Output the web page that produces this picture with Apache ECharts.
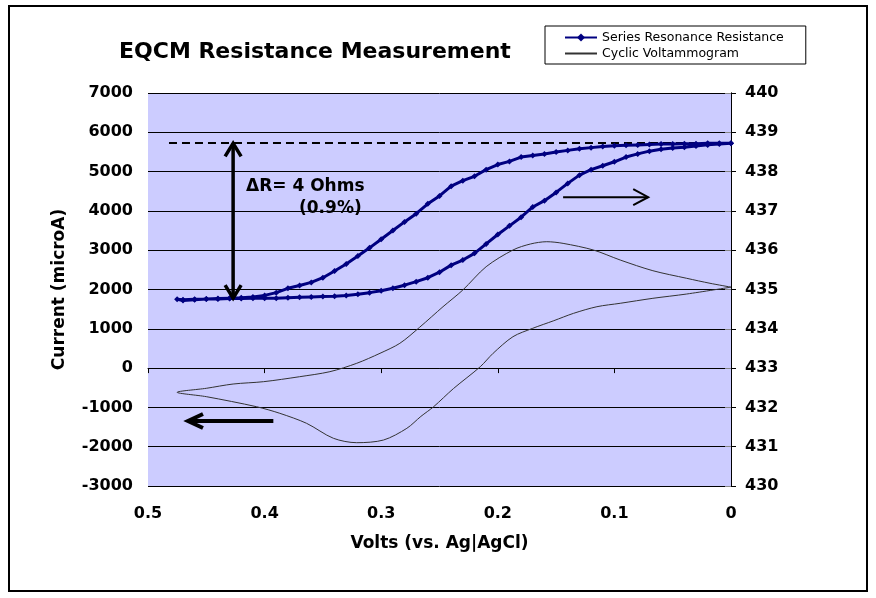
<!DOCTYPE html>
<html>
<head>
<meta charset="utf-8">
<script src="https://cdn.jsdelivr.net/npm/echarts@6/dist/echarts.min.js"></script>
<style>
html,body{margin:0;padding:0;background:#fff;}
#chart{width:876px;height:598px;}
</style>
</head>
<body>
<div id="chart"></div>
<script>
// ---------- data ----------
// Series Resonance Resistance (Ohms, right axis) vs Volts
const resUpperVolts = [0.00,0.01,0.02,0.03,0.04,0.05,0.06,0.07,0.08,0.09,
  0.10,0.11,0.12,0.13,0.14,0.15,0.16,0.17,0.18,0.19,
  0.20,0.21,0.22,0.23,0.24,0.25,0.26,0.27,0.28,0.29,
  0.30,0.31,0.32,0.33,0.34,0.35,0.36,0.37,0.38,0.39,
  0.40,0.41,0.42,0.43,0.44,0.45,0.46,0.47,0.475];
const resUpperOhms = [438.72,438.72,438.72,438.71,438.71,438.70,438.70,438.69,438.68,438.67,
  438.66,438.64,438.61,438.58,438.54,438.50,438.45,438.41,438.37,438.26,
  438.18,438.05,437.88,437.77,437.63,437.38,437.18,436.93,436.72,436.50,
  436.28,436.06,435.85,435.65,435.47,435.30,435.18,435.10,435.03,434.92,
  434.85,434.81,434.79,434.78,434.77,434.76,434.74,434.72,434.75];
const resLowerVolts = [0.47,0.46,0.45,0.44,0.43,0.42,0.41,0.40,0.39,0.38,
  0.37,0.36,0.35,0.34,0.33,0.32,0.31,0.30,0.29,0.28,
  0.27,0.26,0.25,0.24,0.23,0.22,0.21,0.20,0.19,0.18,
  0.17,0.16,0.15,0.14,0.13,0.12,0.11,0.10,0.09,0.08,
  0.07,0.06,0.05,0.04,0.03,0.02,0.01,0.00];
const resLowerOhms = [434.74,434.75,434.76,434.76,434.77,434.77,434.78,434.78,434.78,434.79,
  434.80,434.81,434.82,434.83,434.85,434.88,434.92,434.97,435.03,435.11,
  435.20,435.30,435.44,435.62,435.75,435.92,436.16,436.40,436.62,436.84,
  437.10,437.26,437.47,437.70,437.91,438.05,438.15,438.25,438.37,438.45,
  438.52,438.57,438.60,438.62,438.65,438.68,438.70,438.72];

// Cyclic Voltammogram (microA, left axis) vs Volts
const cvVolts = [0.000,0.018,0.038,0.067,0.095,0.118,0.144,0.158,0.172,0.187,0.210,0.230,0.247,0.267,0.284,0.301,0.321,0.344,0.370,0.401,0.427,0.450,0.475,
  0.450,0.407,0.387,0.364,0.341,0.321,0.298,0.278,0.266,0.255,0.238,0.215,0.204,0.187,0.170,0.152,0.135,0.115,0.095,0.067,0.038,0.000];
const cvCurrent = [2060,2158,2285,2478,2750,3005,3174,3216,3158,3005,2580,1987,1562,1040,631,377,122,-91,-219,-346,-405,-514,-616,
  -727,-982,-1150,-1405,-1786,-1898,-1830,-1532,-1230,-982,-520,36,377,799,1013,1206,1394,1562,1649,1776,1885,2060];

// axis ticks
const xTicks = [0.5,0.4,0.3,0.2,0.1,0];
const leftTicks = [-3000,-2000,-1000,0,1000,2000,3000,4000,5000,6000,7000];
const rightTicks = [430,431,432,433,434,435,436,437,438,439,440];

// annotations (data units): [x1, y1, x2, y2, bothHeads]
const dashedLevel = [[0.482, 438.73, 0.0, 438.73, 0]];
const deltaArrow = [[0.427, 438.72, 0.427, 434.78, 1]];      // right axis
const sweepArrowRight = [[0.144, 437.35, 0.071, 437.35, 0]]; // right axis
const sweepArrowLeft = [[0.3925, -1346, 0.4657, -1346, 0]];  // left axis

// ---------- chart ----------
const resData = resUpperVolts.map((v,i)=>[v,resUpperOhms[i]])
  .concat(resLowerVolts.map((v,i)=>[v,resLowerOhms[i]]));
const cvData = cvVolts.map((v,i)=>[v,cvCurrent[i]]);

const FONT = 'DejaVu Sans';

function arrowRenderer(lineW, headL, headW, dash){
  return function(params, api){
    const p1 = api.coord([api.value(0), api.value(1)]);
    const p2 = api.coord([api.value(2), api.value(3)]);
    const both = api.value(4);
    const dx = p2[0]-p1[0], dy = p2[1]-p1[1];
    const len = Math.sqrt(dx*dx+dy*dy) || 1;
    const ux = dx/len, uy = dy/len, nx = -uy, ny = ux;
    const children = [{
      type:'line',
      shape:{x1:p1[0],y1:p1[1],x2:p2[0],y2:p2[1]},
      style:{stroke:'#000',lineWidth:lineW,lineDash:dash||null}
    }];
    if (headL > 0) {
      children.push({type:'polyline',shape:{points:[
        [p2[0]-ux*headL+nx*headW, p2[1]-uy*headL+ny*headW], p2,
        [p2[0]-ux*headL-nx*headW, p2[1]-uy*headL-ny*headW]]},
        style:{stroke:'#000',lineWidth:lineW,fill:null}});
      if (both) {
        children.push({type:'polyline',shape:{points:[
          [p1[0]+ux*headL+nx*headW, p1[1]+uy*headL+ny*headW], p1,
          [p1[0]+ux*headL-nx*headW, p1[1]+uy*headL-ny*headW]]},
          style:{stroke:'#000',lineWidth:lineW,fill:null}});
      }
    }
    return {type:'group', children};
  };
}

const chart = echarts.init(document.getElementById('chart'), null, {renderer:'canvas'});
chart.setOption({
  animation:false,
  backgroundColor:'#ffffff',
  title:{
    text:'EQCM Resistance Measurement',
    left:114, top:36,
    textStyle:{fontFamily:FONT,fontWeight:'bold',fontSize:22,color:'#000'}
  },
  legend:{
    left:545, top:26,
    orient:'vertical',
    itemWidth:32, itemHeight:10, itemGap:3,
    padding:[5,22,4,19],
    borderColor:'#000', borderWidth:1,
    backgroundColor:'#fff',
    textStyle:{fontFamily:FONT,fontSize:12.5,color:'#000'},
    data:[
      {name:'Series Resonance Resistance'},
      {name:'Cyclic Voltammogram', itemStyle:{opacity:0}}
    ]
  },
  grid:{left:148,right:145,top:93,bottom:112,show:true,backgroundColor:'#ccccff',borderWidth:0},
  xAxis:{
    type:'value', min:0, max:0.5, interval:0.1, inverse:true,
    name:'Volts (vs. Ag|AgCl)', nameLocation:'middle', nameGap:49,
    nameTextStyle:{fontFamily:FONT,fontWeight:'bold',fontSize:17,color:'#000'},
    axisLine:{show:true,lineStyle:{color:'#000',width:1}},
    axisTick:{show:true,length:5,lineStyle:{color:'#000'}},
    axisLabel:{fontFamily:FONT,fontWeight:'bold',fontSize:16,color:'#000',margin:20,
      formatter:v=>{const t=xTicks.find(x=>Math.abs(x-v)<1e-9);return t===0?'0':t.toFixed(1);}},
    splitLine:{show:false}
  },
  yAxis:[{
    type:'value', min:-3000, max:7000, interval:1000, position:'left',
    name:'Current (microA)', nameLocation:'middle', nameGap:80, nameRotate:90,
    nameTextStyle:{fontFamily:FONT,fontWeight:'bold',fontSize:17,color:'#000'},
    axisLine:{show:true,lineStyle:{color:'#000',width:1}},
    axisTick:{show:true,length:6,lineStyle:{color:'#888'}},
    axisLabel:{fontFamily:FONT,fontWeight:'bold',fontSize:16,color:'#000',margin:15,
      formatter:v=>String(leftTicks.find(x=>x===v))},
    splitLine:{show:true,lineStyle:{color:'#000',width:1}}
  },{
    type:'value', min:430, max:440, interval:1, position:'right',
    axisLine:{show:true,lineStyle:{color:'#000',width:1}},
    axisTick:{show:true,length:5,lineStyle:{color:'#000'}},
    axisLabel:{fontFamily:FONT,fontWeight:'bold',fontSize:16,color:'#000',margin:14,
      formatter:v=>String(rightTicks.find(x=>x===v))},
    splitLine:{show:false}
  }],
  series:[{
    type:'custom', name:'dashed', yAxisIndex:1, z:1, silent:true,
    renderItem:arrowRenderer(2,0,0,[8,5]),
    encode:{x:[0,2],y:[1,3]},
    data:dashedLevel
  },{
    type:'line', name:'Cyclic Voltammogram', yAxisIndex:0, z:2,
    data:cvData, smooth:0.3, showSymbol:false, symbol:'none',
    lineStyle:{color:'#333',width:1}, itemStyle:{color:'#333'}
  },{
    type:'line', name:'Series Resonance Resistance', yAxisIndex:1, z:3,
    data:resData, symbol:'diamond', symbolSize:6, showSymbol:true,
    lineStyle:{color:'#000080',width:3}, itemStyle:{color:'#000080'}
  },{
    type:'custom', name:'deltaArrow', yAxisIndex:1, z:4, silent:true,
    renderItem:arrowRenderer(3.5,13,8),
    encode:{x:[0,2],y:[1,3]},
    data:deltaArrow
  },{
    type:'custom', name:'arrowRight', yAxisIndex:1, z:4, silent:true,
    renderItem:arrowRenderer(2,15,8),
    encode:{x:[0,2],y:[1,3]},
    data:sweepArrowRight
  },{
    type:'custom', name:'arrowLeft', yAxisIndex:0, z:4, silent:true,
    renderItem:arrowRenderer(4,15,7),
    encode:{x:[0,2],y:[1,3]},
    data:sweepArrowLeft
  }],
  graphic:[{
    type:'rect', z:100, silent:true,
    shape:{x:9,y:6,width:858,height:585},
    style:{fill:null,stroke:'#000',lineWidth:2}
  },{
    type:'text', left:246, top:178, z:100,
    style:{text:'\u0394R= 4 Ohms',fontFamily:FONT,fontWeight:'bold',fontSize:17,fill:'#000'}
  },{
    type:'text', left:299, top:200, z:100,
    style:{text:'(0.9%)',fontFamily:FONT,fontWeight:'bold',fontSize:17,fill:'#000'}
  }]
});
</script>
</body>
</html>
